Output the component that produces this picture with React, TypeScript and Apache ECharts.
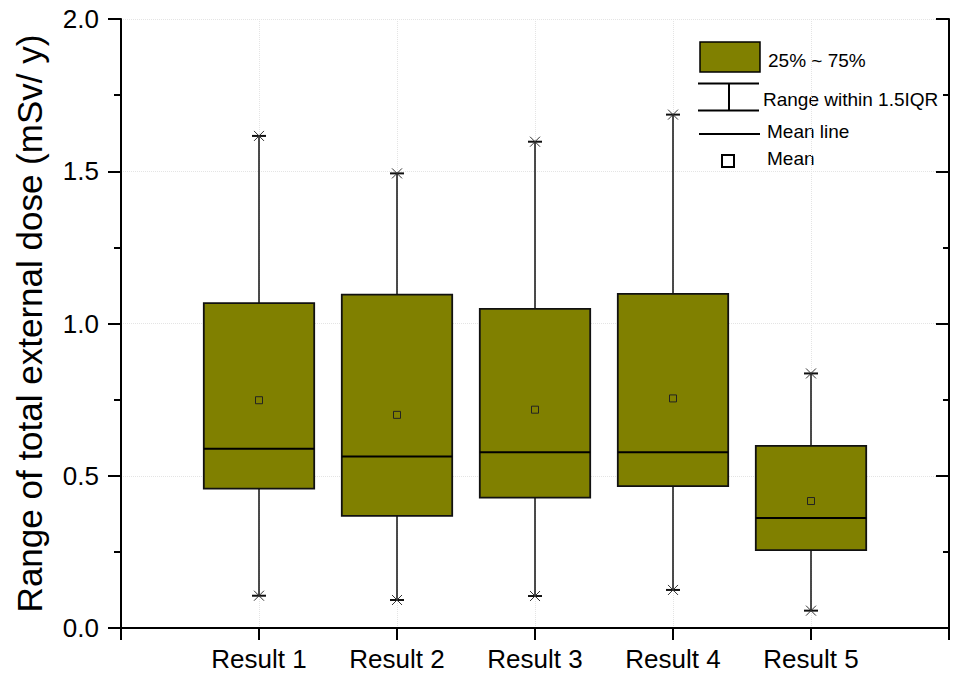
import React, { useEffect, useRef } from "react";
import * as echarts from "echarts";

const categories = ["Result 1", "Result 2", "Result 3", "Result 4", "Result 5"];
const whiskerLow = [0.106, 0.092, 0.105, 0.125, 0.057];
const q1 = [0.458, 0.368, 0.428, 0.466, 0.256];
const median = [0.589, 0.563, 0.577, 0.577, 0.361];
const q3 = [1.067, 1.095, 1.048, 1.097, 0.598];
const whiskerHigh = [1.616, 1.493, 1.597, 1.686, 0.836];
const mean = [0.748, 0.7, 0.717, 0.754, 0.417];

const yTicks = [0, 0.5, 1.0, 1.5, 2.0];
const yAxisName = "Range of total external dose (mSv/ y)";
const legendLabels = ["25% ~ 75%", "Range within 1.5IQR", "Mean line", "Mean"];

const FONT = "'Liberation Sans', Arial, sans-serif";
const OLIVE = "#808000";

export default function App() {
  const ref = useRef<HTMLDivElement>(null);

  useEffect(() => {
    if (!ref.current) return;
    const chart = echarts.init(ref.current, null, { renderer: "svg" });
    const axisData = ["", ...categories, ""];
    const data = categories.map((_, i) => [
      i + 1,
      whiskerLow[i],
      q1[i],
      median[i],
      q3[i],
      whiskerHigh[i],
      mean[i],
    ]);

    const asterisk = (cx: number, cy: number) => [
      { type: "line", shape: { x1: cx - 7, y1: cy, x2: cx + 7, y2: cy }, style: { stroke: "#111", lineWidth: 2 } },
      { type: "line", shape: { x1: cx - 5, y1: cy - 5, x2: cx + 5, y2: cy + 5 }, style: { stroke: "#333", lineWidth: 1 } },
      { type: "line", shape: { x1: cx - 5, y1: cy + 5, x2: cx + 5, y2: cy - 5 }, style: { stroke: "#333", lineWidth: 1 } },
    ];

    const option: any = {
      animation: false,
      backgroundColor: "#fff",
      grid: { left: 121, right: 4, top: 19, bottom: 49, containLabel: false },
      xAxis: [
        {
          type: "category",
          data: axisData,
          boundaryGap: false,
          position: "bottom",
          axisLine: { show: true, lineStyle: { color: "#000", width: 2 } },
          axisTick: { show: true, inside: false, length: 11, lineStyle: { color: "#000", width: 2 } },
          axisLabel: { color: "#000", fontSize: 26, fontFamily: FONT, margin: 18, interval: 0 },
          splitLine: { show: true, lineStyle: { color: "#e4e4e4", type: "dotted", width: 1 } },
        },
        {
          type: "category",
          data: axisData,
          boundaryGap: false,
          position: "top",
          axisLine: { show: true, lineStyle: { color: "#000", width: 2 } },
          axisTick: { show: true, inside: true, length: 12, lineStyle: { color: "#000", width: 2 } },
          axisLabel: { show: false },
          splitLine: { show: false },
        },
      ],
      yAxis: [
        {
          type: "value",
          min: 0,
          max: 2,
          interval: 0.5,
          position: "left",
          name: yAxisName,
          nameLocation: "middle",
          nameGap: 74,
          nameTextStyle: { color: "#000", fontSize: 35, fontFamily: FONT },
          axisLine: { show: true, lineStyle: { color: "#000", width: 2 } },
          axisTick: { show: true, inside: false, length: 13, lineStyle: { color: "#000", width: 2 } },
          minorTick: { show: true, splitNumber: 2, length: 7, lineStyle: { color: "#000", width: 2 } },
          axisLabel: {
            color: "#000",
            fontSize: 26,
            fontFamily: FONT,
            margin: 22,
            formatter: (v: number) => (yTicks.includes(v) ? v.toFixed(1) : ""),
          },
          splitLine: { show: true, lineStyle: { color: "#e4e4e4", type: "dotted", width: 1 } },
        },
        {
          type: "value",
          min: 0,
          max: 2,
          interval: 0.5,
          position: "right",
          axisLine: { show: true, lineStyle: { color: "#000", width: 2 } },
          axisTick: { show: true, inside: true, length: 13, lineStyle: { color: "#000", width: 2 } },
          minorTick: { show: true, splitNumber: 2, length: 6, lineStyle: { color: "#000", width: 2 } },
          axisLabel: { show: false },
          splitLine: { show: false },
        },
      ],
      series: [
        {
          type: "custom",
          xAxisIndex: 0,
          yAxisIndex: 0,
          encode: { x: 0, y: [1, 2, 3, 4, 5, 6] },
          data,
          renderItem: (params: any, api: any) => {
            const x = api.value(0);
            const lo = api.coord([x, api.value(1)]);
            const b1 = api.coord([x, api.value(2)]);
            const md = api.coord([x, api.value(3)]);
            const b3 = api.coord([x, api.value(4)]);
            const hi = api.coord([x, api.value(5)]);
            const mn = api.coord([x, api.value(6)]);
            const bw = api.size([1, 0])[0] * 0.8;
            const cx = b1[0];
            const half = bw / 2;
            return {
              type: "group",
              children: [
                { type: "line", shape: { x1: cx, y1: hi[1], x2: cx, y2: b3[1] }, style: { stroke: "#111", lineWidth: 1.5 } },
                { type: "line", shape: { x1: cx, y1: b1[1], x2: cx, y2: lo[1] }, style: { stroke: "#111", lineWidth: 1.5 } },
                {
                  type: "rect",
                  shape: { x: cx - half, y: b3[1], width: bw, height: b1[1] - b3[1] },
                  style: { fill: OLIVE, stroke: "#111", lineWidth: 1.8 },
                },
                { type: "line", shape: { x1: cx - half, y1: md[1], x2: cx + half, y2: md[1] }, style: { stroke: "#000", lineWidth: 2 } },
                {
                  type: "rect",
                  shape: { x: cx - 3.5, y: mn[1] - 3.5, width: 7, height: 7 },
                  style: { fill: "none", stroke: "#222", lineWidth: 1 },
                },
                ...asterisk(cx, hi[1]),
                ...asterisk(cx, lo[1]),
              ],
            };
          },
        },
      ],
      graphic: [
        { type: "rect", shape: { x: 700, y: 42, width: 60, height: 30 }, style: { fill: OLIVE, stroke: "#000", lineWidth: 1.5 } },
        { type: "text", x: 768, y: 60, style: { text: legendLabels[0], fontSize: 19, fontFamily: FONT, fill: "#000", verticalAlign: "middle" } },
        { type: "line", shape: { x1: 698, y1: 83.5, x2: 759, y2: 83.5 }, style: { stroke: "#000", lineWidth: 2 } },
        { type: "line", shape: { x1: 698, y1: 110.5, x2: 759, y2: 110.5 }, style: { stroke: "#000", lineWidth: 2 } },
        { type: "line", shape: { x1: 729, y1: 83.5, x2: 729, y2: 110.5 }, style: { stroke: "#000", lineWidth: 2 } },
        { type: "text", x: 763, y: 99, style: { text: legendLabels[1], fontSize: 19, fontFamily: FONT, fill: "#000", verticalAlign: "middle" } },
        { type: "line", shape: { x1: 699, y1: 134, x2: 760, y2: 134 }, style: { stroke: "#000", lineWidth: 2 } },
        { type: "text", x: 767, y: 131, style: { text: legendLabels[2], fontSize: 19, fontFamily: FONT, fill: "#000", verticalAlign: "middle" } },
        { type: "rect", shape: { x: 722, y: 155, width: 12, height: 12 }, style: { fill: "#fff", stroke: "#000", lineWidth: 2 } },
        { type: "text", x: 767, y: 158, style: { text: legendLabels[3], fontSize: 19, fontFamily: FONT, fill: "#000", verticalAlign: "middle" } },
      ],
    };
    chart.setOption(option);
    return () => chart.dispose();
  }, []);

  return <div ref={ref} style={{ width: 953, height: 677, position: "absolute", left: 0, top: 0 }} />;
}
